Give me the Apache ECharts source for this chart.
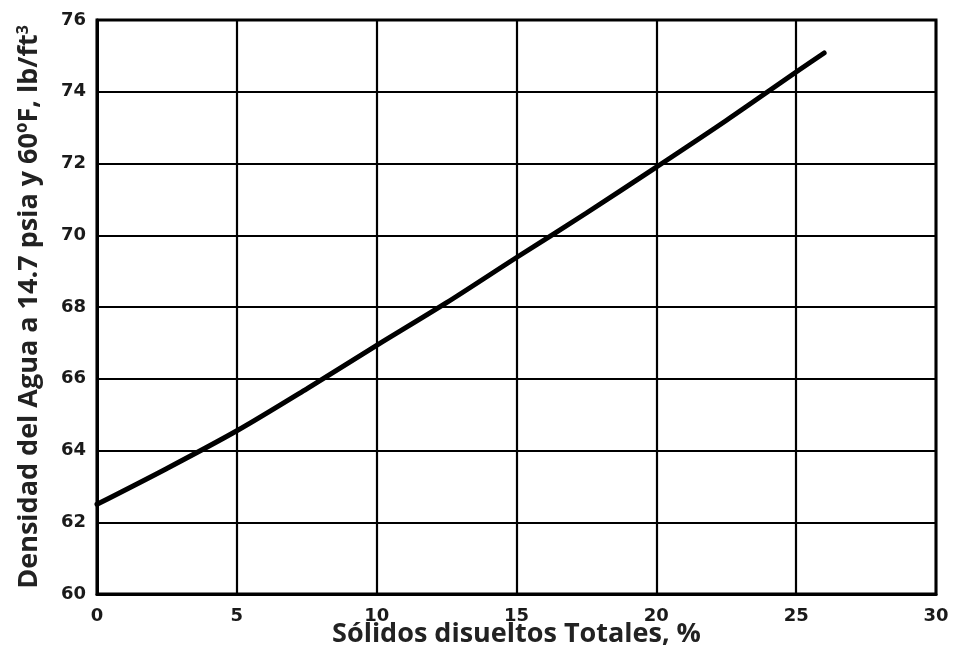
<!DOCTYPE html>
<html>
<head>
<meta charset="utf-8">
<script src="https://cdn.jsdelivr.net/npm/echarts@6/dist/echarts.min.js"></script>
<style>
html,body{margin:0;padding:0;background:#fff;}
#chart{width:957px;height:655px;}
</style>
</head>
<body>
<div id="chart"></div>
<script>
// Total dissolved solids, %
const solids = [0, 2.5, 5, 7.5, 10, 12.5, 15, 17.5, 20, 22.5, 25, 26];
// Water density at 14.7 psia and 60 F, lb/ft3
const density = [62.5, 63.5, 64.55, 65.72, 66.93, 68.12, 69.38, 70.62, 71.9, 73.2, 74.55, 75.08];
const xTicks = [0, 5, 10, 15, 20, 25, 30];
const yTicks = [60, 62, 64, 66, 68, 70, 72, 74, 76];
const xTitle = 'Sólidos disueltos Totales, %';
const yTitleMain = 'Densidad del Agua a 14.7 psia y 60ºF, lb/ft';
const yTitleSup = '3';

const chart = echarts.init(document.getElementById('chart'), null, {renderer: 'canvas'});
const tickFont = {fontFamily: 'DejaVu Sans', fontWeight: 'bold', fontSize: 18, color: '#1a1a1a'};
const titleFont = {fontFamily: 'Open Sans', fontWeight: 'bold', fontSize: 27, color: '#222'};

chart.setOption({
  animation: false,
  backgroundColor: '#fff',
  grid: {left: 97, right: 21, top: 20, bottom: 61, containLabel: false, outerBoundsMode: 'none',
         show: true, borderColor: '#000', borderWidth: 3, backgroundColor: 'transparent'},
  xAxis: {
    type: 'value',
    min: xTicks[0], max: xTicks[xTicks.length - 1], interval: 5,
    axisLine: {show: true, lineStyle: {color: '#000', width: 3}},
    axisTick: {show: false},
    splitLine: {show: true, lineStyle: {color: '#000', width: 2.2}},
    axisLabel: Object.assign({margin: 13}, tickFont),
    name: xTitle,
    nameLocation: 'middle',
    nameGap: 27,
    nameMoveOverlap: false,
    nameTextStyle: titleFont
  },
  yAxis: {
    type: 'value',
    min: yTicks[0], max: yTicks[yTicks.length - 1], interval: 2,
    axisLine: {show: true, lineStyle: {color: '#000', width: 3}},
    axisTick: {show: false},
    splitLine: {show: true, lineStyle: {color: '#000', width: 2.2}},
    axisLabel: Object.assign({margin: 11}, tickFont),
    name: '{a|' + yTitleMain + '}{s|' + yTitleSup + '}',
    nameLocation: 'middle',
    nameGap: 54,
    nameTextStyle: {
      rich: {
        a: titleFont,
        s: {fontFamily: 'Open Sans', fontWeight: 'bold', fontSize: 16, color: '#222', verticalAlign: 'top', padding: [0, 0, 12, 0]}
      }
    }
  },
  series: [{
    type: 'line',
    data: solids.map((x, i) => [x, density[i]]),
    smooth: 0.3,
    showSymbol: false,
    lineStyle: {color: '#000', width: 5, cap: 'round'},
    z: 5
  }]
});
</script>
</body>
</html>
